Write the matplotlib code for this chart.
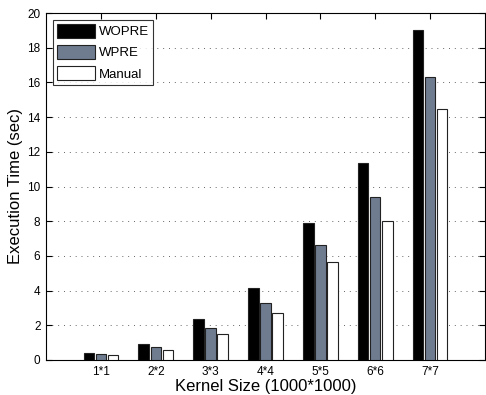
import matplotlib
matplotlib.use('Agg')
import matplotlib.pyplot as plt
import numpy as np

plt.rcParams['font.family'] = ['Liberation Sans', 'DejaVu Sans']

categories = ['1*1', '2*2', '3*3', '4*4', '5*5', '6*6', '7*7']
wopre = [0.38, 0.90, 2.34, 4.17, 7.91, 11.37, 19.0]
wpre = [0.35, 0.75, 1.84, 3.29, 6.65, 9.39, 16.33]
manual = [0.29, 0.59, 1.48, 2.69, 5.67, 8.01, 14.45]

x = np.arange(1, len(categories) + 1)
w = 0.19

fig = plt.figure(figsize=(4.86, 3.95), dpi=100)
ax = fig.add_axes([46/486, 1 - 360/395, (485-46)/486, (360-13)/395])

ax.bar(x - 0.22, wopre, w, color='black', edgecolor='#222222', linewidth=0.8, label='WOPRE', zorder=3)
ax.bar(x, wpre, w, color='#6f7b8f', edgecolor='#222222', linewidth=0.8, label='WPRE', zorder=3)
ax.bar(x + 0.22, manual, w, color='white', edgecolor='#222222', linewidth=0.8, label='Manual', zorder=3)

ax.set_xlim(0, 8)
ax.set_ylim(0, 20)
ax.set_xticks(x)
ax.set_xticklabels(categories)
ax.set_yticks(np.arange(0, 21, 2))
ax.yaxis.grid(True, linestyle=(0, (1, 5)), color='#666666', linewidth=0.7, zorder=0)
ax.tick_params(direction='in', top=True, right=True, labelsize=8.5, length=4, width=0.8, pad=4)
for s in ax.spines.values():
    s.set_linewidth(0.8)

ax.set_xlabel('Kernel Size (1000*1000)', fontsize=12, labelpad=1)
ax.set_ylabel('Execution Time (sec)', fontsize=12, labelpad=3)

leg = ax.legend(loc='upper left', fontsize=9.5, fancybox=False, edgecolor='black',
                handlelength=2.9, handleheight=1.3, borderpad=0.3, labelspacing=0.5,
                handletextpad=0.3, borderaxespad=0.5)
leg.get_frame().set_linewidth(0.8)

fig.savefig('out.png', dpi=100)
